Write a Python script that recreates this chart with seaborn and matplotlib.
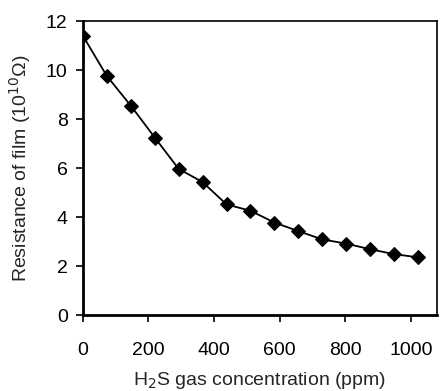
import pandas as pd
import seaborn as sns
import matplotlib.pyplot as plt

# H2S concentration (ppm) vs film resistance
concentration = [0, 73, 146, 219, 292, 365, 438, 511, 584, 657, 730, 803, 876, 949, 1022]
resistance = [11.4, 9.76, 8.55, 7.25, 5.97, 5.43, 4.52, 4.26, 3.78, 3.43, 3.09, 2.92, 2.69, 2.49, 2.36]

data = pd.DataFrame({'conc': concentration, 'res': resistance})

sns.set_style('ticks')
plt.rcParams['font.family'] = ['Liberation Sans', 'DejaVu Sans']

fig = plt.figure(figsize=(4.41, 3.91), dpi=100)
ax = fig.add_axes([0.188, 0.194, 0.803, 0.752])

sns.lineplot(data=data, x='conc', y='res', ax=ax, color='black', linewidth=1.3,
             marker='D', markersize=7.5, markeredgecolor='black', markerfacecolor='black')

ax.set_xlim(0, 1080)
ax.set_ylim(0, 12)
ax.set_xticks([0, 200, 400, 600, 800, 1000])
ax.set_yticks([0, 2, 4, 6, 8, 10, 12])
ax.tick_params(labelsize=14, direction='out', length=5, width=1.2, colors='black')
ax.tick_params(axis='x', pad=14)
ax.tick_params(axis='y', pad=6)

for side in ['left', 'bottom']:
    ax.spines[side].set_linewidth(2)
for side in ['top', 'right']:
    ax.spines[side].set_visible(True)
    ax.spines[side].set_linewidth(1.2)
for s in ax.spines.values():
    s.set_color('black')

ax.set_xlabel('H$_2$S gas concentration (ppm)', fontsize=14, labelpad=8)
ax.set_ylabel('Resistance of film (10$^{10}$Ω)', fontsize=14, labelpad=9)

fig.savefig('out.png', dpi=100)
